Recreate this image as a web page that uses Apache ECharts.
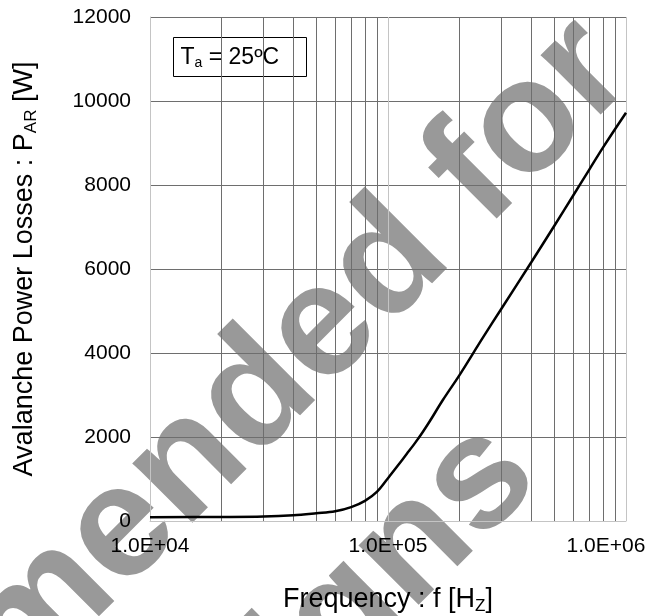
<!DOCTYPE html>
<html>
<head>
<meta charset="utf-8">
<script src="https://cdn.jsdelivr.net/npm/echarts@6/dist/echarts.min.js"></script>
<style>
  html, body { margin: 0; padding: 0; background: #fff; }
  #chart { width: 662px; height: 616px; }
</style>
</head>
<body>
<div id="chart"></div>
<script>
// ---- data ----
const freqHz = [1e4, 2e4, 3e4, 4e4, 5e4, 6e4, 7e4, 8e4, 9e4, 1e5, 1.1e5, 1.2e5, 1.3e5, 1.4e5, 1.5e5, 1.7e5, 2e5, 2.5e5, 3e5, 4e5, 5e5, 6e5, 7e5, 8e5, 1e6];
const powerW = [90, 95, 105, 135, 183, 230, 330, 480, 700, 1020, 1320, 1600, 1860, 2120, 2380, 2880, 3480, 4360, 5060, 6160, 7030, 7750, 8360, 8890, 9720];
const xTickLabels = ['1.0E+04', '1.0E+05', '1.0E+06'];
const minorGridFreqs = [2e4, 3e4, 4e4, 5e4, 6e4, 7e4, 8e4, 9e4, 2e5, 3e5, 4e5, 5e5, 6e5, 7e5, 8e5, 9e5];
const yMin = 0, yMax = 12000, yStep = 2000;
const xMin = 1e4, xMax = 1e6;
const xTitle = '{n|Frequency : f [H}{s|Z}{n|]}';
const yTitle = '{n|Avalanche Power Losses : P}{s|AR}{n| [W]}';
const condition = '{n|T}{s|a}{n| = 25ºC}';
const watermark = 'Not recommended for\nnew designs';

const FONT = '"Liberation Sans", Arial, sans-serif';
const chart = echarts.init(document.getElementById('chart'), null, { renderer: 'canvas' });

const option = {
  backgroundColor: '#ffffff',
  animation: false,
  grid: { left: 150, right: 36, top: 17, bottom: 95, containLabel: false, outerBoundsMode: 'none' },
  graphic: [
    {
      type: 'text',
      z: -1,
      silent: true,
      x: 95, y: 712,
      rotation: Math.PI / 4,
      style: {
        text: watermark,
        fill: '#999999',
        font: 'bold 160px ' + FONT,
        align: 'center',
        verticalAlign: 'middle',
        lineHeight: 218
      }
    },
    {
      type: 'group',
      left: 173, top: 37,
      z: 10,
      children: [
        { type: 'rect', shape: { x: 0, y: 0, width: 133, height: 39 },
          style: { fill: '#fff', stroke: '#000', lineWidth: 1 } },
        { type: 'text', x: 7, y: 20,
          style: {
            text: condition, verticalAlign: 'middle', align: 'left', fill: '#000',
            rich: {
              n: { fontSize: 23, fontFamily: FONT, lineHeight: 26, fill: '#000' },
              s: { fontSize: 14, fontFamily: FONT, lineHeight: 16, verticalAlign: 'bottom', fill: '#000' }
            }
          } }
      ]
    }
  ],
  xAxis: {
    type: 'log',
    logBase: 10,
    min: xMin, max: xMax,
    name: xTitle,
    nameLocation: 'middle',
    nameGap: 64,
    nameTextStyle: {
      color: '#000',
      rich: {
        n: { fontSize: 27, fontFamily: FONT, color: '#000', lineHeight: 30 },
        s: { fontSize: 17, fontFamily: FONT, color: '#000', lineHeight: 20, verticalAlign: 'bottom' }
      }
    },
    axisLine: { show: true, lineStyle: { color: '#c4c4c4', width: 1 } },
    axisTick: { show: false },
    axisLabel: {
      margin: 15,
      color: '#000',
      fontSize: 21,
      fontFamily: FONT,
      formatter: function (v, i) {
        const label = xTickLabels[i] || '';
        return i === xTickLabels.length - 1 ? '{last|' + label + '}' : label;
      },
      rich: {
        last: { fontSize: 21, fontFamily: FONT, color: '#000', padding: [0, 40, 0, 0] }
      }
    },
    splitLine: { show: true, showMinLine: true, showMaxLine: true, lineStyle: { color: '#c4c4c4', width: 1 } }
  },
  yAxis: {
    type: 'value',
    min: yMin, max: yMax, interval: yStep,
    name: yTitle,
    nameLocation: 'middle',
    nameGap: 110,
    nameRotate: 90,
    nameTextStyle: {
      color: '#000',
      rich: {
        n: { fontSize: 27, fontFamily: FONT, color: '#000', lineHeight: 30 },
        s: { fontSize: 17, fontFamily: FONT, color: '#000', lineHeight: 20, verticalAlign: 'bottom' }
      }
    },
    axisLine: { show: true, lineStyle: { color: '#c4c4c4', width: 1 } },
    axisTick: { show: false },
    axisLabel: {
      margin: 19,
      color: '#000',
      fontSize: 21,
      fontFamily: FONT,
      formatter: function (v) { return String(v); }
    },
    splitLine: { show: true, showMinLine: false, showMaxLine: true, lineStyle: { color: '#6e6e6e', width: 1 } }
  },
  series: [
    {
      type: 'line',
      data: [],
      silent: true,
      z: 1,
      markLine: {
        silent: true,
        symbol: ['none', 'none'],
        label: { show: false },
        lineStyle: { color: '#6e6e6e', width: 1, type: 'solid' },
        emphasis: { disabled: true },
        data: minorGridFreqs.map(f => ({ xAxis: f }))
      }
    },
    {
      type: 'line',
      data: freqHz.map((f, i) => [f, powerW[i]]),
      showSymbol: false,
      smooth: 0.35,
      z: 5,
      lineStyle: { color: '#000', width: 2.5 }
    }
  ]
};
chart.setOption(option);
</script>
</body>
</html>
